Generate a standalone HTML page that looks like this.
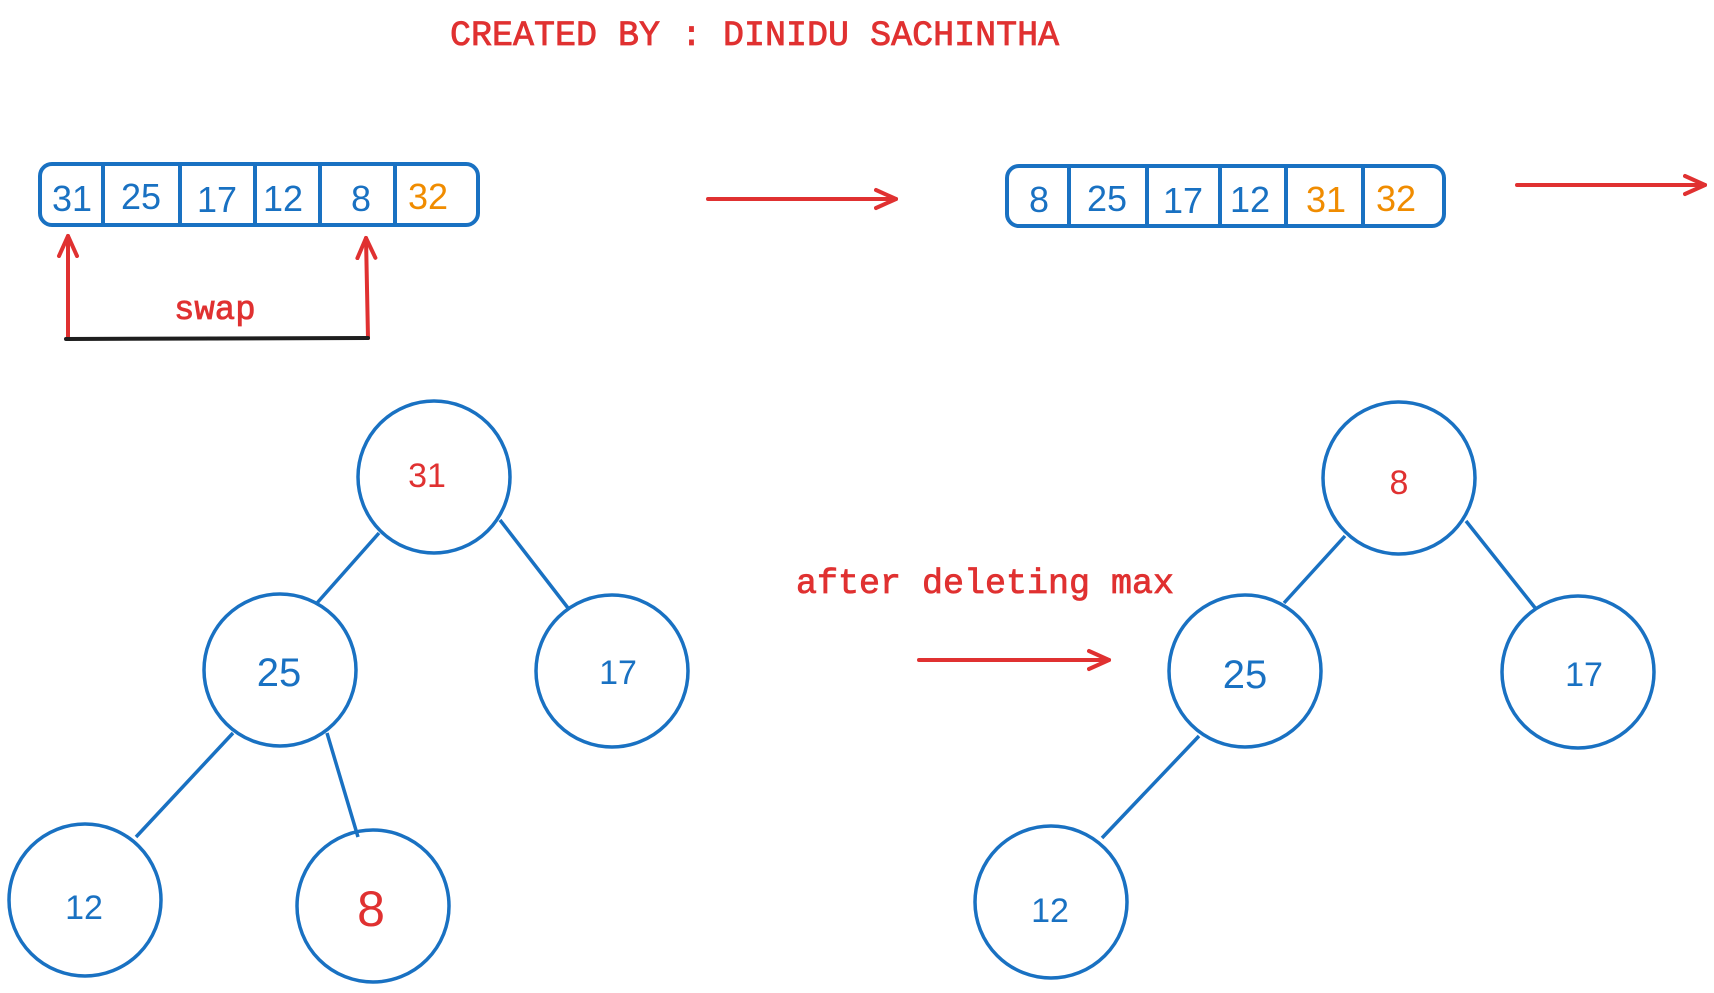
<!DOCTYPE html>
<html><head><meta charset="utf-8"><style>
html,body{margin:0;padding:0;background:#fff;}
svg{display:block;}
</style></head><body>
<svg width="1714" height="993" viewBox="0 0 1714 993" xmlns="http://www.w3.org/2000/svg">
<defs>
<marker id="ah" markerWidth="26" markerHeight="26" refX="22" refY="13" orient="auto" markerUnits="userSpaceOnUse">
<path d="M2,4 L22,13 L2,22" fill="none" stroke="#e03131" stroke-width="4" stroke-linecap="round" stroke-linejoin="round"/>
</marker>
</defs>
<g font-family="Liberation Mono, monospace" fill="#e03131" stroke="#e03131" stroke-width="0.8">
<text x="450" y="45" font-size="35">CREATED BY : DINIDU SACHINTHA</text>
<text x="174" y="319" font-size="34">swap</text>
<text x="796" y="593" font-size="35">after deleting max</text>
</g>
<!-- arrays -->
<g fill="none" stroke="#1971c2" stroke-width="4">
<rect x="40" y="164" width="438" height="61" rx="12"/>
<line x1="103" y1="164" x2="103" y2="225"/><line x1="180" y1="164" x2="180" y2="225"/>
<line x1="255" y1="164" x2="255" y2="225"/><line x1="320" y1="164" x2="320" y2="225"/>
<line x1="395" y1="164" x2="395" y2="225"/>
<rect x="1007" y="166" width="437" height="60" rx="12"/>
<line x1="1069" y1="166" x2="1069" y2="226"/><line x1="1147" y1="166" x2="1147" y2="226"/>
<line x1="1220" y1="166" x2="1220" y2="226"/><line x1="1286" y1="166" x2="1286" y2="226"/>
<line x1="1363" y1="166" x2="1363" y2="226"/>
</g>
<g font-family="Liberation Sans, sans-serif" font-size="36" text-anchor="middle" fill="#1971c2">
<text x="72" y="211">31</text><text x="141" y="209">25</text><text x="217" y="212">17</text>
<text x="283" y="211">12</text><text x="361" y="211">8</text><text x="428" y="209" fill="#f08c00">32</text>
<text x="1039" y="212">8</text><text x="1107" y="211">25</text><text x="1183" y="213">17</text>
<text x="1250" y="212">12</text><text x="1326" y="212" fill="#f08c00">31</text><text x="1396" y="211" fill="#f08c00">32</text>
</g>
<!-- arrows -->
<g stroke="#e03131" stroke-width="4" fill="none" stroke-linecap="round">
<line x1="708" y1="199" x2="896" y2="199" marker-end="url(#ah)"/>
<line x1="1517" y1="185" x2="1705" y2="185" marker-end="url(#ah)"/>
<line x1="919" y1="660" x2="1109" y2="660" marker-end="url(#ah)"/>
<line x1="68" y1="338" x2="68" y2="236" marker-end="url(#ah)"/>
<line x1="368" y1="338" x2="366" y2="238" marker-end="url(#ah)"/>
</g>
<line x1="66" y1="339" x2="368" y2="338" stroke="#1e1e1e" stroke-width="4" stroke-linecap="round"/>
<!-- trees -->
<g fill="none" stroke="#1971c2" stroke-width="3.5">
<circle cx="434" cy="477" r="76"/><circle cx="280" cy="670" r="76"/><circle cx="612" cy="671" r="76"/>
<circle cx="85" cy="900" r="76"/><circle cx="373" cy="906" r="76"/>
<line x1="379" y1="533" x2="317" y2="603"/><line x1="500" y1="520" x2="568" y2="608"/>
<line x1="233" y1="733" x2="136" y2="837"/><line x1="327" y1="733" x2="358" y2="837"/>
<circle cx="1399" cy="478" r="76"/><circle cx="1245" cy="671" r="76"/><circle cx="1578" cy="672" r="76"/>
<circle cx="1051" cy="902" r="76"/>
<line x1="1345" y1="536" x2="1284" y2="603"/><line x1="1466" y1="521" x2="1536" y2="609"/>
<line x1="1199" y1="736" x2="1102" y2="838"/>
</g>
<g font-family="Liberation Sans, sans-serif" text-anchor="middle" fill="#1971c2">
<text x="427" y="487" font-size="34" fill="#e03131">31</text>
<text x="279" y="686" font-size="40">25</text>
<text x="618" y="684" font-size="34">17</text>
<text x="84" y="919" font-size="34">12</text>
<text x="371" y="926" font-size="50" fill="#e03131">8</text>
<text x="1399" y="494" font-size="34" fill="#e03131">8</text>
<text x="1245" y="688" font-size="40">25</text>
<text x="1584" y="686" font-size="34">17</text>
<text x="1050" y="922" font-size="34">12</text>
</g>
</svg>
</body></html>
